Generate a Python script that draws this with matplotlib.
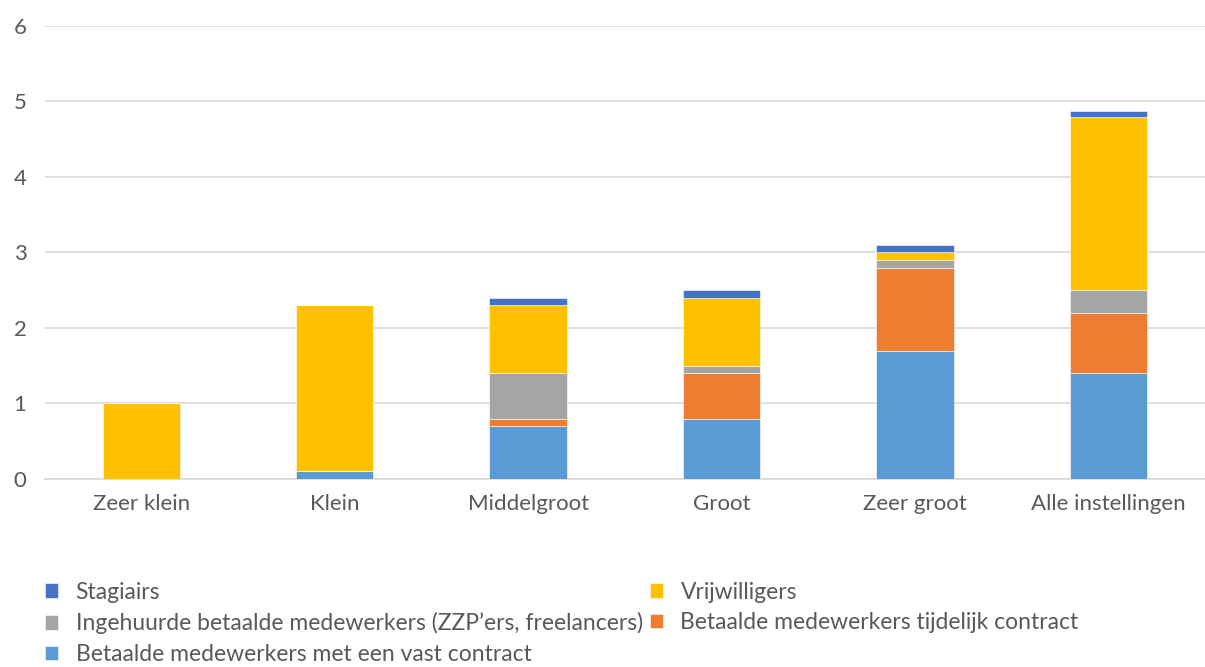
import matplotlib.pyplot as plt
import numpy as np

plt.rcParams["font.family"] = ["Lato", "DejaVu Sans"]

categories = ["Zeer klein", "Klein", "Middelgroot", "Groot", "Zeer groot", "Alle instellingen"]

vast = [0.0, 0.1, 0.7, 0.8, 1.7, 1.4]
tijdelijk = [0.0, 0.0, 0.1, 0.6, 1.1, 0.8]
ingehuurd = [0.0, 0.0, 0.6, 0.1, 0.1, 0.3]
vrijwilligers = [1.0, 2.2, 0.9, 0.9, 0.1, 2.3]
stagiairs = [0.0, 0.0, 0.1, 0.1, 0.1, 0.08]

series = [
    ("Betaalde medewerkers met een vast contract", vast, "#5B9BD5"),
    ("Betaalde medewerkers tijdelijk contract", tijdelijk, "#ED7D31"),
    ("Ingehuurde betaalde medewerkers (ZZP\u2019ers, freelancers)", ingehuurd, "#A5A5A5"),
    ("Vrijwilligers", vrijwilligers, "#FFC000"),
    ("Stagiairs", stagiairs, "#4472C4"),
]

text_color = "#595959"
grid_color = "#D9D9D9"

fig = plt.figure(figsize=(12.05, 6.67), dpi=100)
ax = fig.add_axes([0.037, 0.282, 0.963, 0.679])

x = np.arange(len(categories))
bottom = np.zeros(len(categories))
handles = {}
for name, vals, color in series:
    vals = np.array(vals)
    h = ax.bar(x, vals, width=0.4, bottom=bottom, color=color,
               edgecolor="white", linewidth=0.4, zorder=3)
    handles[name] = h
    bottom += vals

ax.set_xlim(-0.5, len(categories) - 0.5)
ax.set_ylim(0, 6)
ax.set_yticks(range(0, 7))
ax.yaxis.grid(True, color=grid_color, linewidth=1.2, zorder=0)
ax.set_xticks(x)
ax.set_xticklabels(categories)
ax.tick_params(axis="both", length=0, labelsize=16, colors=text_color)
ax.tick_params(axis="x", pad=11)
ax.tick_params(axis="y", pad=13)
for side in ["top", "right", "left"]:
    ax.spines[side].set_visible(False)
ax.spines["bottom"].set_color(grid_color)
ax.spines["bottom"].set_linewidth(1.2)

order = [
    "Stagiairs",
    "Ingehuurde betaalde medewerkers (ZZP\u2019ers, freelancers)",
    "Betaalde medewerkers met een vast contract",
    "Vrijwilligers",
    "Betaalde medewerkers tijdelijk contract",
]
leg = fig.legend([handles[n] for n in order], order, loc="upper left",
                 bbox_to_anchor=(0.037, 0.128), ncol=2, frameon=False,
                 fontsize=16.5, handlelength=0.6, handleheight=0.6,
                 handletextpad=0.75, columnspacing=0.3, labelspacing=0.42,
                 borderaxespad=0, borderpad=0)
for t in leg.get_texts():
    t.set_color(text_color)

fig.savefig("out.png", dpi=100)
